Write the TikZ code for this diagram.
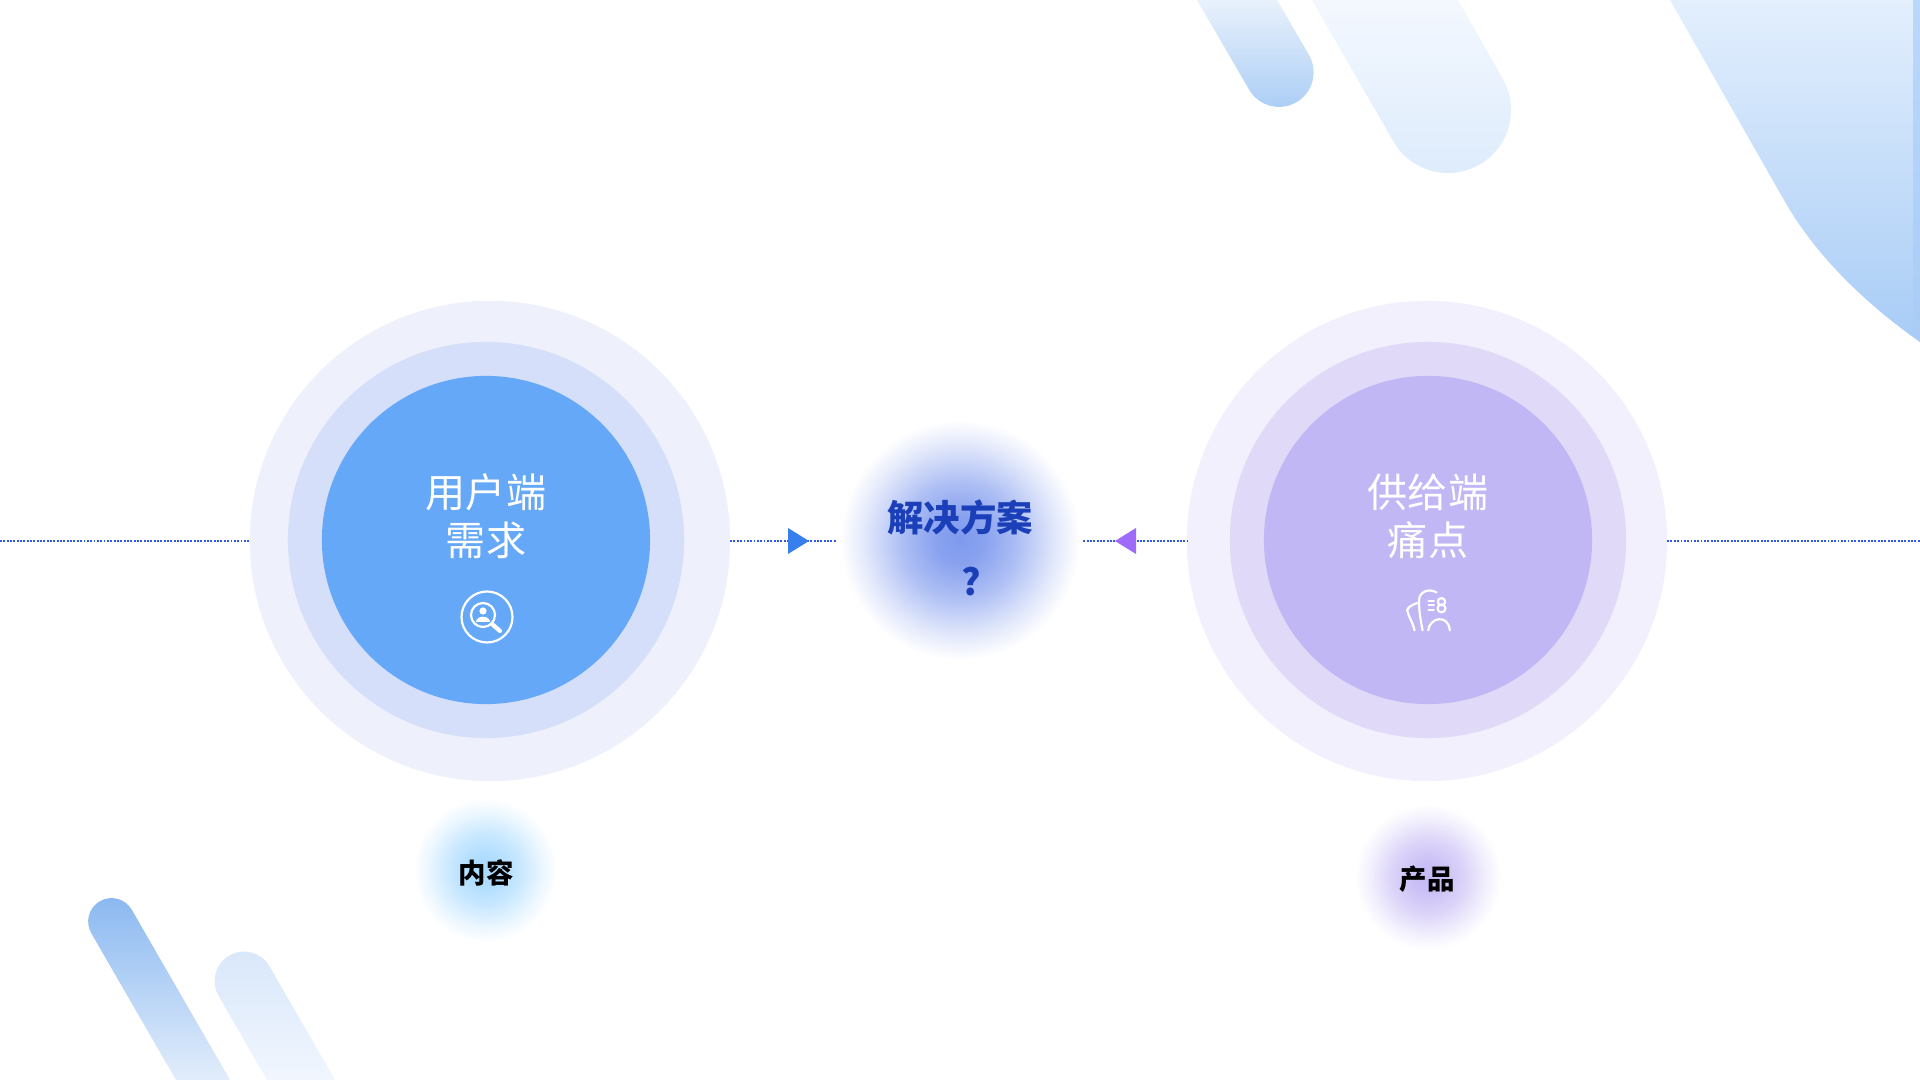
\documentclass[tikz,border=0pt]{standalone}
\usepackage{fontspec}
\usepackage{xcolor}
\newfontfamily\cjk{Noto Sans CJK SC}
\usetikzlibrary{positioning}

\definecolor{lineblue}{HTML}{3358EC}
\definecolor{titleblue}{HTML}{1A3FB8}
\definecolor{glowsol}{HTML}{7F9AEE}
\definecolor{glowcontent}{HTML}{A8DAFF}
\definecolor{glowproduct}{HTML}{C6BAF5}

\newcommand{\declareglow}[2]{%
	\pgfdeclareradialshading{#1}{\pgfpointorigin}{%
		color(0bp)=(#2);
		color(5bp)=(#2!92!white);
		color(12.5bp)=(#2!62!white);
		color(20bp)=(#2!22!white);
		color(25bp)=(white);
		color(50bp)=(white)}}
\declareglow{glowsolution}{glowsol}
\declareglow{glowblue}{glowcontent}
\declareglow{glowpurple}{glowproduct}

\tikzset{
	disc/.style={circle, inner sep=0pt, outer sep=0pt, minimum size=#1},
	dotline/.style={lineblue, line width=.55pt, dash pattern=on .55pt off .4pt},
	glow/.style={circle, inner sep=0pt, outer sep=.9pt, minimum size=#1},
	bigtext/.style={white, align=center, font=\cjk\fontsize{11.4pt}{13.6pt}\selectfont},
	boldtext/.style={font=\cjk\bfseries\fontsize{#1}{#1}\selectfont},
	icon/.style={white, line width=.62pt, line cap=round, line join=round}
}

\begin{document}
\begin{tikzpicture}[x=.01cm, y=-.01cm]
	\useasboundingbox (0,0) rectangle (1920,1080);
	\fill[white] (0,0) rectangle (1920,1080);

	% corner shapes
	\shade[top color={rgb,255:red,232;green,241;blue,252}, bottom color={rgb,255:red,170;green,205;blue,245}]
	(1277,0) -- (1309,55) arc[start angle=-30, end angle=150, radius=34.6] -- (1197,0) -- cycle;
	\shade[top color={rgb,255:red,244;green,248;blue,254}, bottom color={rgb,255:red,220;green,235;blue,252}]
	(1458,0) -- (1502.6,78.5) arc[start angle=-30, end angle=150, radius=63] -- (1312,0) -- cycle;
	\shade[top color={rgb,255:red,227;green,239;blue,253}, bottom color={rgb,255:red,168;green,204;blue,246}]
	(1670,0) -- (1920,0) -- (1920,342) .. controls (1860,300) and (1812,250) .. (1784,200) -- cycle;
	\shade[top color={rgb,255:red,186;green,216;blue,251}, bottom color={rgb,255:red,168;green,204;blue,246}]
	(1913,0) -- (1920,0) -- (1920,342) -- (1913,335) -- cycle;
	\shade[top color={rgb,255:red,138;green,184;blue,240}, bottom color={rgb,255:red,226;green,237;blue,251}]
	(230,1080) -- (131.8,909.8) arc[start angle=-30, end angle=-210, radius=23.4] -- (176,1080) -- cycle;
	\shade[top color={rgb,255:red,216;green,231;blue,250}, bottom color={rgb,255:red,241;green,246;blue,254}]
	(335,1080) -- (269.5,966.3) arc[start angle=-30, end angle=-210, radius=29.4] -- (267,1080) -- cycle;

	% left circles
	\node[disc=4.8cm, fill={rgb,255:red,238;green,240;blue,252}] (useroutr) at (490,541) {};
	\node[disc=3.96cm, fill={rgb,255:red,214;green,223;blue,250}] (usermid) at (486,540) {};
	\node[disc=3.28cm, fill={rgb,255:red,102;green,168;blue,248}] (userdisc) at (486,540) {};

	% right circles
	\node[disc=4.8cm, fill={rgb,255:red,242;green,240;blue,253}] (supplyoutr) at (1427,541) {};
	\node[disc=3.96cm, fill={rgb,255:red,224;green,217;blue,248}] (supplymid) at (1428,540) {};
	\node[disc=3.28cm, fill={rgb,255:red,193;green,183;blue,245}] (supplydisc) at (1428,540) {};

	% glows
	\node[glow=2.4cm, shade, shading=glowsolution] (solution) at (960,540) {};
	\node[glow=1.44cm, shade, shading=glowblue] (contentglow) at (485,870) {};
	\node[glow=1.46cm, shade, shading=glowpurple] (productglow) at (1428,877) {};

	% dotted lines
	\coordinate (leftend) at (0,541);
	\coordinate (rightend) at (1920,541);
	\draw[dotline] (leftend) -- (useroutr.west);
	\draw[dotline] (useroutr.east) -- (solution.west |- useroutr.east);
	\draw[dotline] (solution.east |- supplyoutr.west) -- (supplyoutr.west);
	\draw[dotline] (supplyoutr.east) -- (rightend);

	\fill[color={rgb,255:red,55;green,127;blue,238}] (788,528) -- (809,541) -- (788,554) -- cycle;
	\fill[color={rgb,255:red,159;green,107;blue,251}] (1136,528) -- (1115,541) -- (1136,554) -- cycle;

	% texts
	\node[bigtext] (usertext) at (486,516) {用户端\\需求};
	\node[bigtext] (supplytext) at (1428,516) {供给端\\痛点};
	\node[boldtext=10.35pt, titleblue] (soltext) at (960,517) {解决方案};
	\node[boldtext=10.35pt, titleblue] (solmark) at (971,582) {?};
	\node[boldtext=7.8pt, black] (contenttext) at (486,873) {内容};
	\node[boldtext=7.8pt, black] (producttext) at (1427,879) {产品};

	% magnifier icon
	\draw[icon] (487,617) circle (25.5);
	\draw[icon] (483,615) circle (12);
	\draw[icon, line width=1.2pt] (492,624) -- (500,631);
	\fill[white] (483,611) circle (3.6);
	\fill[white] (476,622) .. controls (476,615) and (490,615) .. (490,622) -- cycle;

	% building icon
	\begin{scope}[shift={(1340,440)}, x=.00333cm, y=-.00333cm]
		\draw[icon] (248,572) .. controls (240,530) and (236,500) .. (238,478)
		.. controls (240,455) and (268,445) .. (290,458);
		\draw[icon] (224,572) .. controls (218,545) and (205,530) .. (202,512)
		.. controls (202,505) and (215,495) .. (232,490);
		\draw[icon] (265,572) .. controls (268,535) and (325,520) .. (330,572);
		\draw[icon] (266,483) -- (282,483) (266,497) -- (282,497) (266,512) -- (282,512);
		\draw[icon] (305,486) circle (11) (305,506) circle (12);
	\end{scope}
\end{tikzpicture}
\end{document}
